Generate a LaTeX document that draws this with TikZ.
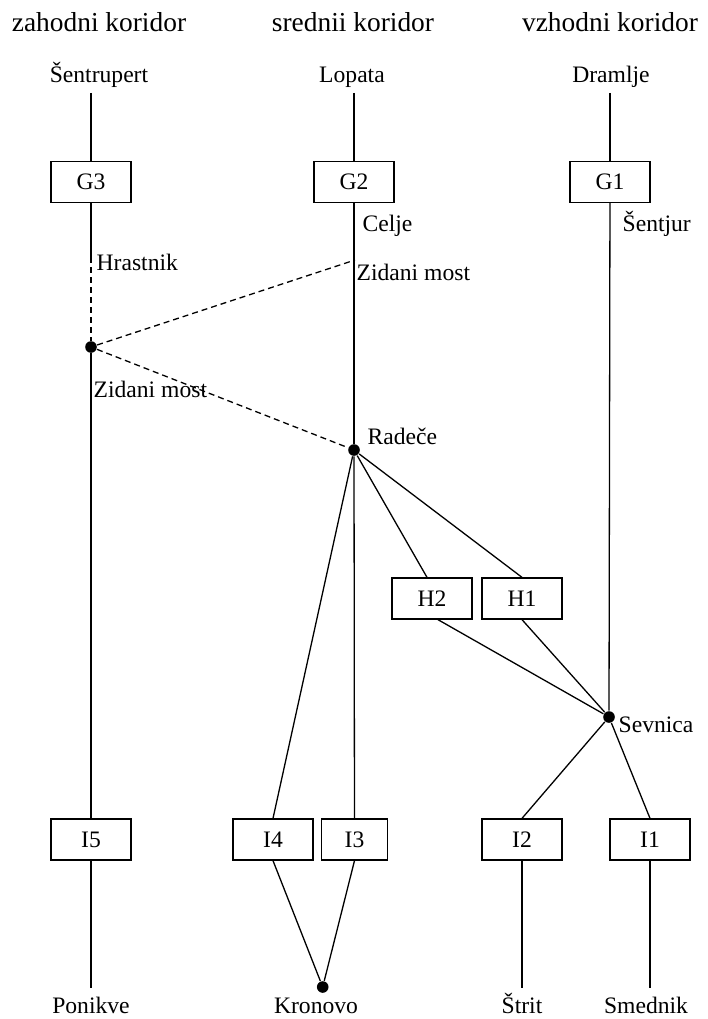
\documentclass[tikz,border=0pt]{standalone}
\usepackage{fontspec}
\setmainfont{Liberation Serif}
\newcommand\lblfont{\fontsize{23.6}{28}\selectfont}
\newcommand\ttlfont{\fontsize{27.4}{32}\selectfont}
\begin{document}
\begin{tikzpicture}[x=1pt, y=-1pt, line width=1.3pt,
  box/.style={draw, minimum width=80pt, minimum height=41pt, inner sep=0pt, font=\lblfont},
  lab/.style={inner sep=0pt, font=\lblfont},
  ttl/.style={inner sep=0pt, font=\ttlfont, anchor=base},
  junction/.style={circle, fill, inner sep=0pt, minimum size=11.6pt},
  alt/.style={dash pattern=on 6pt off 4pt}]
\useasboundingbox (0,0) rectangle (707,1019);

% corridor titles
\node[ttl] (tw) at (99,31.7) {zahodni koridor};
\node[ttl] (tm) at (353,31.7) {srednii koridor};
\node[ttl] (te) at (610,31.7) {vzhodni koridor};

% end stations at the top
\node[lab, anchor=base] (sentrupert) at (99,83) {Šentrupert};
\node[lab, anchor=base] (lopata) at (352,83) {Lopata};
\node[lab, anchor=base] (dramlje) at (611,83) {Dramlje};
\coordinate (w0) at (91,93);
\coordinate (m0) at (354,93);
\coordinate (e0) at (610,93);

% section boxes
\node[box] (G3) at (91,182) {G3};
\node[box] (G2) at (354,182) {G2};
\node[box] (G1) at (610,182) {G1};
\node[box] (H2) at (432,598.5) {H2};
\node[box] (H1) at (522,598.5) {H1};
\node[box] (I5) at (91,839.5) {I5};
\node[box] (I4) at (273,839.5) {I4};
\node[box, minimum width=66pt] (I3) at (354.5,839.5) {I3};
\node[box] (I2) at (522,839.5) {I2};
\node[box] (I1) at (650,839.5) {I1};

% junctions
\node[junction] (zm) at (91,347) {};
\node[junction] (rad) at (354,450) {};
\node[junction] (sev) at (609,717) {};
\node[junction] (kro) at (322.7,987) {};
\coordinate (wh) at (91,257);
\coordinate (zmc) at (355,260);

% end stations at the bottom
\coordinate (wb) at (91,988);
\coordinate (eb2) at (522,988);
\coordinate (eb1) at (650,988);
\node[lab, anchor=base] (ponikve) at (91,1013) {Ponikve};
\node[lab, anchor=base] (kronovo) at (316,1013) {Kronovo};
\node[lab, anchor=base] (strit) at (522,1013) {Štrit};
\node[lab, anchor=base] (smednik) at (646,1013) {Smednik};

% station labels along the lines
\node[lab, anchor=base west] (celje) at (362,231) {Celje};
\node[lab, anchor=base west] (sentjur) at (622,231) {Šentjur};
\node[lab, anchor=base west] (hrastnik) at (96,270) {Hrastnik};
\node[lab, anchor=base west] (zmup) at (356,280) {Zidani most};
\node[lab, anchor=base west] (zmlow) at (93,397) {Zidani most};
\node[lab, anchor=base west] (radece) at (367,444) {Radeče};
\node[lab, anchor=base west] (sevnica) at (618,732) {Sevnica};

% western corridor
\draw (w0) -- (G3);
\draw (G3) -- (wh);
\draw[alt] (wh) -- (zm);
\draw (zm) -- (I5);
\draw (I5) -- (wb);

% middle corridor
\draw (m0) -- (G2);
\draw (G2) -- (rad);
\draw (rad) -- (I3);
\draw[alt] (zm) -- (zmc);
\draw[alt] (zm) -- (rad);
\draw (rad) -- ([xshift=-5pt]H2.north);
\draw (rad) -- (H1.north);
\draw (rad) -- (I4.north);
\draw (I4.south) -- (kro);
\draw (I3.south) -- (kro);

% eastern corridor
\draw (e0) -- (G1);
\draw (G1) -- (sev);
\draw ([xshift=6pt]H2.south) -- (sev);
\draw (H1.south) -- (sev);
\draw (sev) -- (I2.north);
\draw (sev) -- (I1.north);
\draw (I2) -- (eb2);
\draw (I1) -- (eb1);
\end{tikzpicture}
\end{document}
